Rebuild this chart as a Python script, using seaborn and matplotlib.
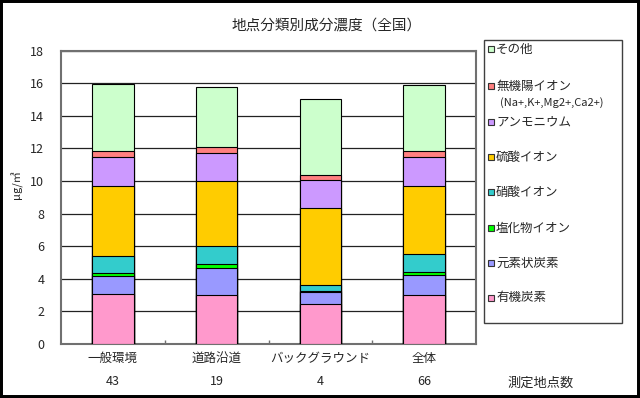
import numpy as np
import pandas as pd
import matplotlib
matplotlib.use("Agg")
import matplotlib.pyplot as plt
from matplotlib.patches import Rectangle
import seaborn as sns

# === Data (μg/m3) ===
sites = ["一般環境", "道路沿道", "バックグラウンド", "全体"]
site_counts = [43, 19, 4, 66]

components = ["有機炭素", "元素状炭素", "塩化物イオン", "硝酸イオン",
              "硫酸イオン", "アンモニウム", "無機陽イオン", "その他"]
organic_c = [3.05, 2.99, 2.43, 2.99]
elemental_c = [1.10, 1.69, 0.74, 1.26]
chloride = [0.19, 0.21, 0.06, 0.15]
nitrate = [1.08, 1.14, 0.37, 1.10]
sulfate = [4.25, 3.95, 4.72, 4.17]
ammonium = [1.82, 1.74, 1.72, 1.82]
cations = [0.35, 0.35, 0.35, 0.35]
other = [4.09, 3.72, 4.62, 4.03]

colors = ["#FF99CC", "#9999FF", "#00FF00", "#33CCCC",
          "#FFCC00", "#CC99FF", "#FF8080", "#CCFFCC"]

# === Build table ===
df = pd.DataFrame({
    "site": sites,
    "有機炭素": organic_c,
    "元素状炭素": elemental_c,
    "塩化物イオン": chloride,
    "硝酸イオン": nitrate,
    "硫酸イオン": sulfate,
    "アンモニウム": ammonium,
    "無機陽イオン": cations,
    "その他": other,
})
cum = df[components].cumsum(axis=1)

sns.set_style("white")
plt.rcParams["font.family"] = ["Noto Sans CJK JP", "DejaVu Sans"]

fig = plt.figure(figsize=(6.4, 3.98), dpi=100)
ax = fig.add_axes([0.0953, 0.1357, 0.6485, 0.7369])

# === Stacked bars: draw cumulative totals from top layer down ===
for comp, col in reversed(list(zip(components, colors))):
    sns.barplot(x=df["site"], y=cum[comp], color=col, width=0.4,
                saturation=1, edgecolor="black", linewidth=0.8, ax=ax,
                zorder=3)

ax.set_ylim(0, 18)
ax.set_xlim(-0.5, 3.5)
ax.set_yticks(np.arange(0, 19, 2))
ax.yaxis.grid(True, color="#222222", linewidth=0.9, zorder=0)
ax.set_axisbelow(True)
for s in ax.spines.values():
    s.set_color("#707070")
    s.set_linewidth(1.5)

ax.set_xlabel("")
ax.set_ylabel("")
fig.text(17 / 640, 1 - 185 / 398, "μg/㎥", rotation=90, ha="center",
         va="center", fontsize=8)
ax.set_xticks(range(len(sites)))
ax.set_xticklabels([f"{s}\n{n}" for s, n in zip(sites, site_counts)],
                   fontsize=9, linespacing=2.0)
ax.set_xticks([0.5, 1.5, 2.5], minor=True)
ax.tick_params(axis="x", which="major", length=0, pad=6)
ax.tick_params(axis="x", which="minor", direction="in", length=3,
               width=1, color="#707070", bottom=True)
ax.tick_params(axis="y", length=0, pad=12, labelsize=9)

# === Title and notes ===
fig.text(0.51, 0.935, "地点分類別成分濃度（全国）", ha="center", va="center",
         fontsize=10.5)
fig.text(0.845, 0.038, "測定地点数", ha="center", va="center", fontsize=9.5)

# === Legend (manual, top entry = その他) ===
fig.patches.append(Rectangle((484 / 640, 1 - 323 / 398), 138 / 640, 283 / 398,
                             transform=fig.transFigure, fill=False,
                             edgecolor="#404040", linewidth=1.0))
ys = [49, 86, 122, 157, 192, 228, 263, 298]
for (comp, col), y in zip(reversed(list(zip(components, colors))), ys):
    fig.patches.append(Rectangle((488 / 640, 1 - (y + 3) / 398), 6 / 640, 6 / 398,
                                 transform=fig.transFigure, facecolor=col,
                                 edgecolor="#333333", linewidth=0.8))
    fig.text(496 / 640, 1 - y / 398, comp, ha="left", va="center", fontsize=9)
fig.text(500 / 640, 1 - 103 / 398, "(Na+,K+,Mg2+,Ca2+)", ha="left",
         va="center", fontsize=8)

# === Outer frame ===
fig.patches.append(Rectangle((0, 0), 1, 1, transform=fig.transFigure,
                             fill=False, edgecolor="black", linewidth=4.3))

fig.savefig("out.png", dpi=100)
plt.close(fig)
